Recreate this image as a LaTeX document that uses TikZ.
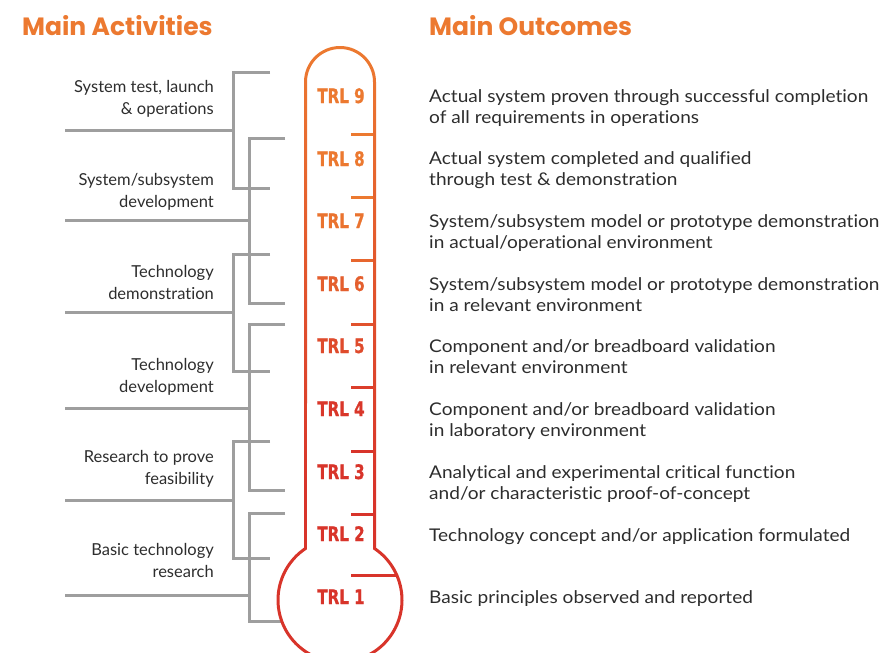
\documentclass[tikz,border=0pt]{standalone}
\usepackage{fontspec}
\usepackage{graphicx}
\setmainfont{Lato}[Ligatures=NoCommon]
\newfontfamily\outfont{Lato}[FakeStretch=1.09, Ligatures=NoCommon]
\newfontfamily\headfont{Poppins}
\newfontfamily\trlfont{DejaVu Sans Condensed Bold}[FakeBold=1]

\definecolor{torange}{RGB}{236,121,48}
\definecolor{tred}{RGB}{216,52,42}
\definecolor{bracketgray}{RGB}{158,158,158}
\definecolor{bodytext}{RGB}{45,45,45}

% orange at the top of the thermometer, red towards the bulb
\pgfdeclareverticalshading{thermoshade}{100bp}{%
  color(0bp)=(tred); color(39bp)=(tred); color(74bp)=(torange); color(100bp)=(torange)}

\newcommand\lines[2]{\begin{tabular}[t]{@{}#1@{}}#2\end{tabular}}

\begin{document}
\begin{tikzpicture}[x=1pt,y=-1pt,
  heading/.style={font=\headfont\bfseries\fontsize{25}{28}\selectfont,
    text=torange, inner sep=0, anchor=base west},
  activity/.style={font=\fontsize{16.5}{22}\selectfont, text=bodytext,
    inner sep=0, anchor=base east},
  outcome/.style={font=\outfont\fontsize{17.5}{21.5}\selectfont, text=bodytext,
    inner sep=0, anchor=base west},
  trl/.style={font=\trlfont\fontsize{20}{20}\selectfont, inner sep=0, anchor=base},
  bracket/.style={draw=bracketgray, line width=3pt},
  scale mark/.style={line width=3pt}
]
\useasboundingbox (0,0) rectangle (886,653);

% headings
\node[heading] (hact) at (22,35) {Main Activities};
\node[heading] (hout) at (429,35) {Main Outcomes};

% activity labels
\node[activity] (a1) at (214,92)  {\lines{r}{System test, launch\\ \& operations}};
\node[activity] (a2) at (214,185) {\lines{r}{System/subsystem\\ development}};
\node[activity] (a3) at (214,277) {\lines{r}{Technology\\ demonstration}};
\node[activity] (a4) at (214,370) {\lines{r}{Technology\\ development}};
\node[activity] (a5) at (214,462) {\lines{r}{Research to prove\\ feasibility}};
\node[activity] (a6) at (214,555) {\lines{r}{Basic technology\\ research}};

% brackets grouping the readiness levels
\draw[bracket] (270,72) -- (233,72) -- (233,188) -- (270,188);
\draw[bracket] (65,130) -- (233,130);
\draw[bracket] (285,138) -- (249,138) -- (249,303) -- (285,303);
\draw[bracket] (65,220) -- (249,220);
\draw[bracket] (270,254) -- (233,254) -- (233,371) -- (270,371);
\draw[bracket] (65,312) -- (233,312);
\draw[bracket] (285,324) -- (249,324) -- (249,490) -- (285,490);
\draw[bracket] (65,408) -- (249,408);
\draw[bracket] (270,441) -- (233,441) -- (233,558) -- (270,558);
\draw[bracket] (65,500) -- (233,500);
\draw[bracket] (285,513) -- (249,513) -- (249,621) -- (281,621);
\draw[bracket] (65,595) -- (249,595);

% scale marks on the thermometer
\draw[scale mark, torange]            (351,134) -- (374,134);
\draw[scale mark, torange]            (351,197) -- (374,197);
\draw[scale mark, tred!27!torange]    (351,260) -- (374,260);
\draw[scale mark, tred!56!torange]    (351,324) -- (374,324);
\draw[scale mark, tred!85!torange]    (351,387) -- (374,387);
\draw[scale mark, tred]               (351,451) -- (374,451);
\draw[scale mark, tred]               (351,514) -- (374,514);
\draw[scale mark, tred]               (351,575) -- (397,575);

% thermometer outline: a 3pt ring filled with the vertical shading
\begin{scope}[even odd rule]
  \clip
    (376,547.69) arc[start angle=-55.46, end angle=235.46, radius=63.5]
      -- (304,82) arc[start angle=180, end angle=360, radius=36] -- cycle
    (373,549.29) arc[start angle=-56.94, end angle=236.94, radius=60.5]
      -- (307,82) arc[start angle=180, end angle=360, radius=33] -- cycle;
  \shade[shading=thermoshade] (270,40) rectangle (410,660);
\end{scope}

% readiness levels
\node[trl, text=torange]          (t9) at (341,103) {\scalebox{0.84}[1]{TRL 9}};
\node[trl, text=torange]          (t8) at (341,166) {\scalebox{0.84}[1]{TRL 8}};
\node[trl, text=tred!9!torange]   (t7) at (341,228) {\scalebox{0.84}[1]{TRL 7}};
\node[trl, text=tred!38!torange]  (t6) at (341,291) {\scalebox{0.84}[1]{TRL 6}};
\node[trl, text=tred!66!torange]  (t5) at (341,353) {\scalebox{0.84}[1]{TRL 5}};
\node[trl, text=tred!95!torange]  (t4) at (341,416) {\scalebox{0.84}[1]{TRL 4}};
\node[trl, text=tred]             (t3) at (341,479) {\scalebox{0.84}[1]{TRL 3}};
\node[trl, text=tred]             (t2) at (341,541) {\scalebox{0.84}[1]{TRL 2}};
\node[trl, text=tred]             (t1) at (341,604) {\scalebox{0.84}[1]{TRL 1}};

% outcomes
\node[outcome] (o9) at (429,102) {\lines{l}{Actual system proven through successful completion\\ of all requirements in operations}};
\node[outcome] (o8) at (429,164) {\lines{l}{Actual system completed and qualified\\ through test \& demonstration}};
\node[outcome] (o7) at (429,227) {\lines{l}{System/subsystem model or prototype demonstration\\ in actual/operational environment}};
\node[outcome] (o6) at (429,290) {\lines{l}{System/subsystem model or prototype demonstration\\ in a relevant environment}};
\node[outcome] (o5) at (429,352) {\lines{l}{Component and/or breadboard validation\\ in relevant environment}};
\node[outcome] (o4) at (429,415) {\lines{l}{Component and/or breadboard validation\\ in laboratory environment}};
\node[outcome] (o3) at (429,478) {\lines{l}{Analytical and experimental critical function\\ and/or characteristic proof-of-concept}};
\node[outcome] (o2) at (429,541) {Technology concept and/or application formulated};
\node[outcome] (o1) at (429,603) {Basic principles observed and reported};
\end{tikzpicture}
\end{document}
